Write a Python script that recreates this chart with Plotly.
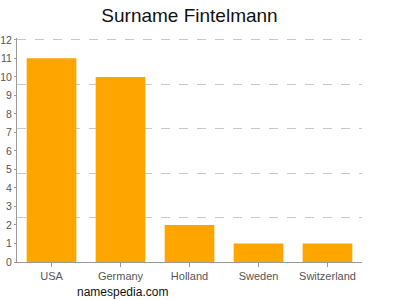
import plotly.graph_objects as go

categories = ["USA", "Germany", "Holland", "Sweden", "Switzerland"]
values = [11, 10, 2, 1, 1]
y_ticks = list(range(0, 13))
grid_ticks = [0, 2.4, 4.8, 7.2, 9.6, 12]

L, R, T, B = 17, 38, 38, 38
PW, PH = 400 - L - R, 300 - T - B
YMAX = 12.1

fig = go.Figure()
fig.add_trace(go.Bar(x=categories, y=values, marker=dict(color="#FFA500", line=dict(width=0)),
                     hoverinfo="skip"))
fig.add_trace(go.Scatter(x=categories, y=values, yaxis="y2", mode="markers",
                         marker=dict(opacity=0), showlegend=False, hoverinfo="skip"))

fig.update_layout(
    width=400, height=300,
    margin=dict(l=L, r=R, t=T, b=B),
    paper_bgcolor="white", plot_bgcolor="white",
    showlegend=False,
    bargap=0.28,
    title=dict(text="Surname Fintelmann", x=(L + PW / 2) / 400, xanchor="center",
               y=1 - 15 / 300, yanchor="middle",
               font=dict(family="Liberation Sans, Arial", size=19, color="#111")),
    font=dict(family="Liberation Sans, Arial", size=11, color="#555"),
    xaxis=dict(showline=True, linecolor="#999", linewidth=1, ticks="outside",
               ticklen=4, tickcolor="#999", showgrid=False, automargin=False,
               tickfont=dict(size=11, color="#555")),
    yaxis=dict(range=[0, YMAX], tickvals=y_ticks, showgrid=False, zeroline=False,
               showline=True, linecolor="#999", linewidth=1, ticks="outside",
               ticklen=2, tickcolor="#999", automargin=False,
               tickfont=dict(size=10.5, color="#555")),
    yaxis2=dict(range=[0, YMAX], tickvals=grid_ticks, overlaying="y", side="right",
                showticklabels=False, showgrid=True, gridcolor="#c8c8c8",
                griddash="dash", gridwidth=1, zeroline=False, showline=False,
                automargin=False),
    annotations=[dict(text="namespedia.com", xref="paper", yref="paper",
                      x=(75 - L) / PW, y=(300 - B - 292) / PH,
                      xanchor="left", yanchor="middle", showarrow=False,
                      font=dict(size=12, color="#111", family="Liberation Sans, Arial"))],
)
fig.write_html("out.html")
